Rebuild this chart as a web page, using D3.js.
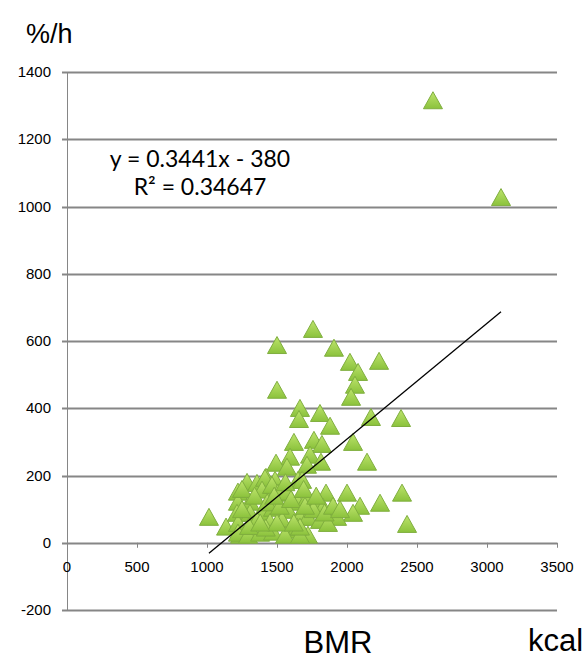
<!DOCTYPE html>
<html><head><meta charset="utf-8">
<script src="https://cdn.jsdelivr.net/npm/d3@7"></script>
<style>html,body{margin:0;padding:0;background:#fff;}svg{display:block;}</style>
</head><body>
<svg id="chart" width="585" height="661"></svg>
<script>
// Data (BMR kcal, %/h)
const bmr = [2614,3100,1757,1500,1907,2021,2229,2079,2057,2029,1500,1664,1657,1807,1879,2171,2386,
  1621,1764,1821,2043,1736,1593,2143,1493,1571,1814,1714,1650,1286,1421,1486,2000,1850,2393,2236,2093,
  2043,2429,1014,1136,1929,1721,1236,
  1357,1414,1221,1221,1307,1393,1464,1507,1571,1650,1700,1214,1307,1393,1471,1579,1664,1221,1357,1450,
  1536,1593,1643,1221,1293,1379,1471,1557,1664,1679,1714,1786,1829,1721,1807,1864,1664,
  1250,1340,1430,1520,1600,1690,1760,1840,1300,1420,1500,1620,1700,1780,1900,1950,1250,1480,1560,1380];
const rate = [1316,1028,636,588,580,538,541,508,470,434,455,401,368,386,348,374,371,
  300,306,294,300,262,256,241,238,226,241,232,187,181,196,187,149,149,149,119,110,
  89,56,77,48,77,24,24,
  178,193,152,122,122,158,172,149,152,122,98,89,89,92,104,98,77,59,68,62,
  68,39,48,30,24,30,33,24,24,187,134,122,107,77,68,59,48,
  160,140,120,110,130,160,100,90,50,45,60,60,110,140,110,100,100,140,180,60];
const xTicks = [0,500,1000,1500,2000,2500,3000,3500];
const yTicks = [-200,0,200,400,600,800,1000,1200,1400];
const slope = 0.3441, intercept = -380;
const eqLines = ["y = 0.3441x - 380", "R² = 0.34647"];
const yUnit = "%/h", xTitle = "BMR", xUnit = "kcal";

const svg = d3.select("#chart");
const x = d3.scaleLinear().domain([0,3500]).range([67,557]);
const y = d3.scaleLinear().domain([-200,1400]).range([610,72]);

const defs = svg.append("defs");
const g1 = defs.append("linearGradient").attr("id","tri").attr("x1",0).attr("y1",0).attr("x2",0).attr("y2",1);
g1.append("stop").attr("offset","0%").attr("stop-color","#bde46c");
g1.append("stop").attr("offset","100%").attr("stop-color","#8bc23c");

// gridlines
svg.append("g").selectAll("line").data(yTicks).join("line")
  .attr("x1",62).attr("x2",557).attr("y1",d=>Math.round(y(d))+0.5).attr("y2",d=>Math.round(y(d))+0.5)
  .attr("stroke","#868686").attr("stroke-width",2);
// y axis line
svg.append("line").attr("x1",67.5).attr("x2",67.5).attr("y1",y(1400)).attr("y2",y(-200))
  .attr("stroke","#868686").attr("stroke-width",1);
// x ticks
svg.append("g").selectAll("line").data(xTicks).join("line")
  .attr("x1",d=>Math.round(x(d))+0.5).attr("x2",d=>Math.round(x(d))+0.5)
  .attr("y1",y(0)).attr("y2",y(0)+5).attr("stroke","#868686").attr("stroke-width",1);

// tick labels
svg.append("g").selectAll("text").data(yTicks).join("text")
  .attr("x",51).attr("y",d=>y(d)+5).attr("text-anchor","end")
  .attr("font-family","Liberation Sans, Arial, sans-serif").attr("font-size",15).attr("fill","#000")
  .text(d=>d);
svg.append("g").selectAll("text").data(xTicks).join("text")
  .attr("x",d=>x(d)).attr("y",y(0)+29).attr("text-anchor","middle")
  .attr("font-family","Liberation Sans, Arial, sans-serif").attr("font-size",15).attr("fill","#000")
  .text(d=>d);

// points
const pts = bmr.map((b,i)=>({b, r: rate[i]}));
const tw = 19, th = 17;
svg.append("g").selectAll("path").data(pts).join("path")
  .attr("transform",d=>`translate(${x(d.b)},${y(d.r)})`)
  .attr("d",`M0,${-th/2} L${tw/2},${th/2} L${-tw/2},${th/2} Z`)
  .attr("fill","url(#tri)").attr("stroke","#7fae3e").attr("stroke-width",1).attr("stroke-linejoin","round");

// trendline
const xmin = d3.min(bmr), xmax = d3.max(bmr);
svg.append("line")
  .attr("x1",x(xmin)).attr("y1",y(slope*xmin+intercept))
  .attr("x2",x(xmax)).attr("y2",y(slope*xmax+intercept))
  .attr("stroke","#000").attr("stroke-width",1.3);

// equation
svg.append("g").selectAll("text").data(eqLines).join("text")
  .attr("x",200).attr("y",(d,i)=>167+i*28).attr("text-anchor","middle")
  .attr("font-family","Lato, Open Sans, sans-serif").attr("font-size",23).attr("fill","#000")
  .text(d=>d);

// axis titles
svg.append("text").attr("x",26).attr("y",43).attr("font-family","Liberation Sans, Arial, sans-serif")
  .attr("font-size",27).text(yUnit);
svg.append("text").attr("x",338).attr("y",653).attr("text-anchor","middle")
  .attr("font-family","Liberation Sans, Arial, sans-serif").attr("font-size",31).text(xTitle);
svg.append("text").attr("x",528).attr("y",651)
  .attr("font-family","Liberation Sans, Arial, sans-serif").attr("font-size",31).text(xUnit);
</script>
</body></html>
